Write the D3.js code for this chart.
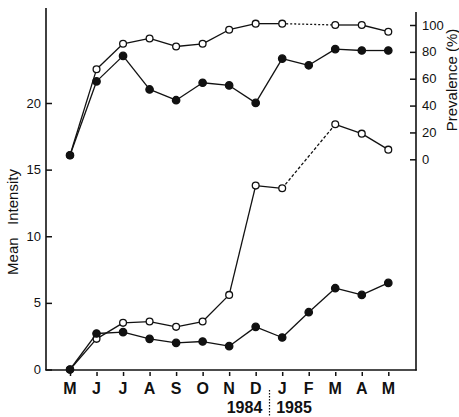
<!DOCTYPE html>
<html><head><meta charset="utf-8">
<script src="https://cdn.jsdelivr.net/npm/d3@7"></script>
<style>body{margin:0;background:#fff}svg{display:block}text{font-family:"Liberation Sans",Arial,sans-serif;fill:#111}</style>
</head><body><svg id="c" width="459" height="417"></svg>
<script>
const months = ["M","J","J","A","S","O","N","D","J","F","M","A","M"];
const prevalenceOpen   = [3, 67, 86, 90, 84, 86, 96.5, 101, 101, null, 100, 100, 95];
const prevalenceFilled = [3, 58, 77, 52, 44, 57, 55, 42, 75, 70, 82, 81, 81];
const intensityOpen    = [0, 2.3, 3.5, 3.6, 3.2, 3.6, 5.6, 13.8, 13.6, null, 18.4, 17.7, 16.5];
const intensityFilled  = [0, 2.7, 2.8, 2.3, 2.0, 2.1, 1.75, 3.2, 2.4, 4.3, 6.1, 5.6, 6.5];
const leftTicks = [0, 5, 10, 15, 20];
const rightTicks = [0, 20, 40, 60, 80, 100];
const years = ["1984", "1985"];

const svg = d3.select("#c");
const x = d3.scalePoint().domain(d3.range(months.length)).range([70, 388.3]);
const yL = d3.scaleLinear().domain([0, 20]).range([369.5, 103]);
const yR = d3.scaleLinear().domain([0, 100]).range([159.3, 25]);
const col = "#111";

// axes
const axL = svg.append("g").attr("transform", "translate(46,0)")
  .call(d3.axisRight(yL).tickValues(leftTicks).tickSize(6).tickFormat(""));
axL.select(".domain").remove();
axL.selectAll("line").attr("stroke", col).attr("stroke-width", 1.5);
svg.append("line").attr("x1", 46).attr("x2", 46).attr("y1", 8).attr("y2", 370).attr("stroke", col).attr("stroke-width", 1.6);
leftTicks.forEach(t => svg.append("text").attr("x", 41).attr("y", yL(t)).attr("dy", "0.35em")
  .attr("text-anchor", "end").attr("font-size", 13).text(t));

const axR = svg.append("g").attr("transform", "translate(416,0)")
  .call(d3.axisLeft(yR).tickValues(rightTicks).tickSize(6).tickFormat(""));
axR.select(".domain").remove();
axR.selectAll("line").attr("stroke", col).attr("stroke-width", 1.5);
svg.append("line").attr("x1", 416).attr("x2", 416).attr("y1", 12).attr("y2", 370.5).attr("stroke", col).attr("stroke-width", 1.6);
rightTicks.forEach(t => svg.append("text").attr("x", 422).attr("y", yR(t)).attr("dy", "0.35em")
  .attr("text-anchor", "start").attr("font-size", 13).text(t));

const axB = svg.append("g").attr("transform", "translate(0,370)")
  .call(d3.axisBottom(x).tickSize(6).tickFormat(""));
axB.select(".domain").remove();
axB.selectAll("line").attr("stroke", col).attr("stroke-width", 1.5).attr("y1", 2);
svg.append("line").attr("x1", 45.2).attr("x2", 416.8).attr("y1", 370).attr("y2", 370).attr("stroke", col).attr("stroke-width", 1.6);
months.forEach((m, i) => svg.append("text").attr("x", x(i)).attr("y", 394)
  .attr("text-anchor", "middle").attr("font-size", 16).attr("font-weight", "bold").text(m));

svg.append("text").attr("x", 244.5).attr("y", 413).attr("text-anchor", "middle").attr("font-size", 16).attr("font-weight", "bold").text(years[0]);
svg.append("text").attr("x", 294).attr("y", 413).attr("text-anchor", "middle").attr("font-size", 16).attr("font-weight", "bold").text(years[1]);
svg.append("line").attr("x1", 269.5).attr("x2", 269.5).attr("y1", 390).attr("y2", 417)
  .attr("stroke", col).attr("stroke-width", 1.2).attr("stroke-dasharray", "1.5,1.5");

svg.append("text").attr("transform", "translate(18,222) rotate(-90)").attr("text-anchor", "middle")
  .attr("font-size", 15).attr("xml:space", "preserve").style("white-space", "pre").text("Mean   Intensity");
svg.append("text").attr("transform", "translate(457,80) rotate(-90)").attr("text-anchor", "middle")
  .attr("font-size", 15).text("Prevalence (%)");

// series
function drawSeries(vals, y, open, dash) {
  const pts = vals.map((v, i) => v == null ? null : [x(i), y(v)]);
  const line = d3.line();
  for (let i = 0; i < pts.length - 1; i++) {
    if (pts[i] && pts[i + 1]) {
      svg.append("path").attr("d", line([pts[i], pts[i + 1]])).attr("fill", "none")
        .attr("stroke", col).attr("stroke-width", 1.3);
    } else if (pts[i] && !pts[i + 1]) {
      let j = i + 1; while (j < pts.length && !pts[j]) j++;
      if (j < pts.length) svg.append("path").attr("d", line([pts[i], pts[j]])).attr("fill", "none")
        .attr("stroke", col).attr("stroke-width", 1.3).attr("stroke-dasharray", dash);
    }
  }
  svg.append("g").selectAll("circle").data(pts.filter(p => p)).join("circle")
    .attr("cx", d => d[0]).attr("cy", d => d[1]).attr("r", open ? 3.4 : 3.7)
    .attr("fill", open ? "#fff" : col).attr("stroke", col).attr("stroke-width", 1.3);
}
drawSeries(prevalenceOpen, yR, true, "2,2");
drawSeries(prevalenceFilled, yR, false, "2,2");
drawSeries(intensityOpen, yL, true, "3,2");
drawSeries(intensityFilled, yL, false, "3,2");
</script></body></html>
